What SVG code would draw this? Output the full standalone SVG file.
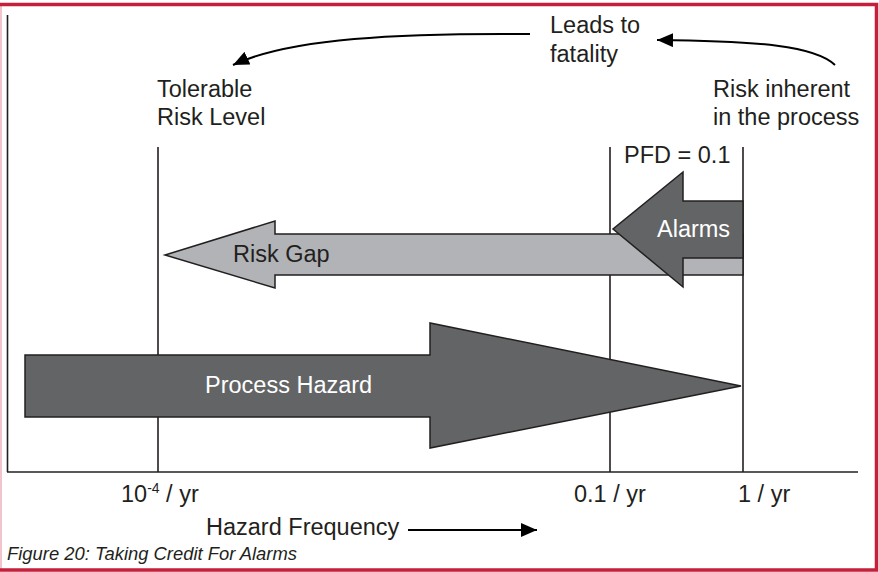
<svg xmlns="http://www.w3.org/2000/svg" width="879" height="572" viewBox="0 0 879 572">
<style>
text{font-family:"Liberation Sans",Arial,sans-serif;font-size:23.5px;fill:#231f20}
.w{fill:#ffffff}
.cap{font-size:18.4px;font-style:italic}
.ln{stroke:#231f20;stroke-width:1.6;fill:none}
.cv{stroke:#000;stroke-width:2;fill:none}
.light{fill:#b1b3b6;stroke:#231f20;stroke-width:1.5}
.dark{fill:#636466;stroke:#231f20;stroke-width:1.5}
</style>
<defs>
<marker id="ah" viewBox="0 0 16 14" refX="16" refY="7" markerWidth="16" markerHeight="14" markerUnits="userSpaceOnUse" orient="auto">
<path d="M0,0 L16,7 L0,14 z" fill="#000"/>
</marker>
</defs>
<rect width="879" height="572" fill="#fff"/>
<line x1="1" y1="4" x2="1" y2="570" stroke="#f2c4cc" stroke-width="2"/>
<path d="M0,4.5 H876.5 V570 H0" fill="none" stroke="#c5203b" stroke-width="3.5"/>
<g id="axes">
<line class="ln" x1="7.5" y1="15" x2="7.5" y2="472"/>
<line class="ln" x1="7" y1="472" x2="858" y2="472"/>
<line class="ln" x1="158" y1="147" x2="158" y2="472"/>
<line class="ln" x1="610" y1="147" x2="610" y2="472"/>
<line class="ln" x1="743" y1="147" x2="743" y2="472"/>
</g>
<g id="risk-gap">
<polygon class="light" points="743,234 275,234 275,221 165,255 275,288 275,275 743,275"/>
<text x="233" y="262">Risk Gap</text>
</g>
<g id="alarms">
<polygon class="dark" points="743,201 683,201 683,172 613,229 683,287 683,258 743,258"/>
<text class="w" x="657" y="237">Alarms</text>
</g>
<g id="process-hazard">
<polygon class="dark" points="25,355 430,355 430,323 741,386 430,448 430,417 25,417"/>
<text class="w" x="205" y="393">Process Hazard</text>
</g>
<g id="tolerable">
<text x="157" y="97">Tolerable</text>
<text x="157" y="125">Risk Level</text>
</g>
<g id="leads">
<text x="550" y="33">Leads to</text>
<text x="550" y="62">fatality</text>
</g>
<g id="inherent">
<text x="713" y="97">Risk inherent</text>
<text x="713" y="125">in the process</text>
</g>
<g id="pfd"><text x="624" y="163">PFD = 0.1</text></g>
<g id="ticks">
<text x="121" y="502">10<tspan font-size="14" dy="-9">-4</tspan><tspan dy="9"> / yr</tspan></text>
<text x="574" y="502">0.1 / yr</text>
<text x="738" y="502">1 / yr</text>
</g>
<g id="xlabel"><text x="206" y="535">Hazard Frequency</text></g>
<g id="connectors">
<path class="cv" d="M530,34 C400,33 290,38 233,65" marker-end="url(#ah)"/>
<path class="cv" d="M835,65 C815,46 760,41 657,40" marker-end="url(#ah)"/>
<path class="cv" d="M408,530 L537,530" marker-end="url(#ah)"/>
</g>
<text class="cap" x="7" y="560">Figure 20: Taking Credit For Alarms</text>
</svg>
